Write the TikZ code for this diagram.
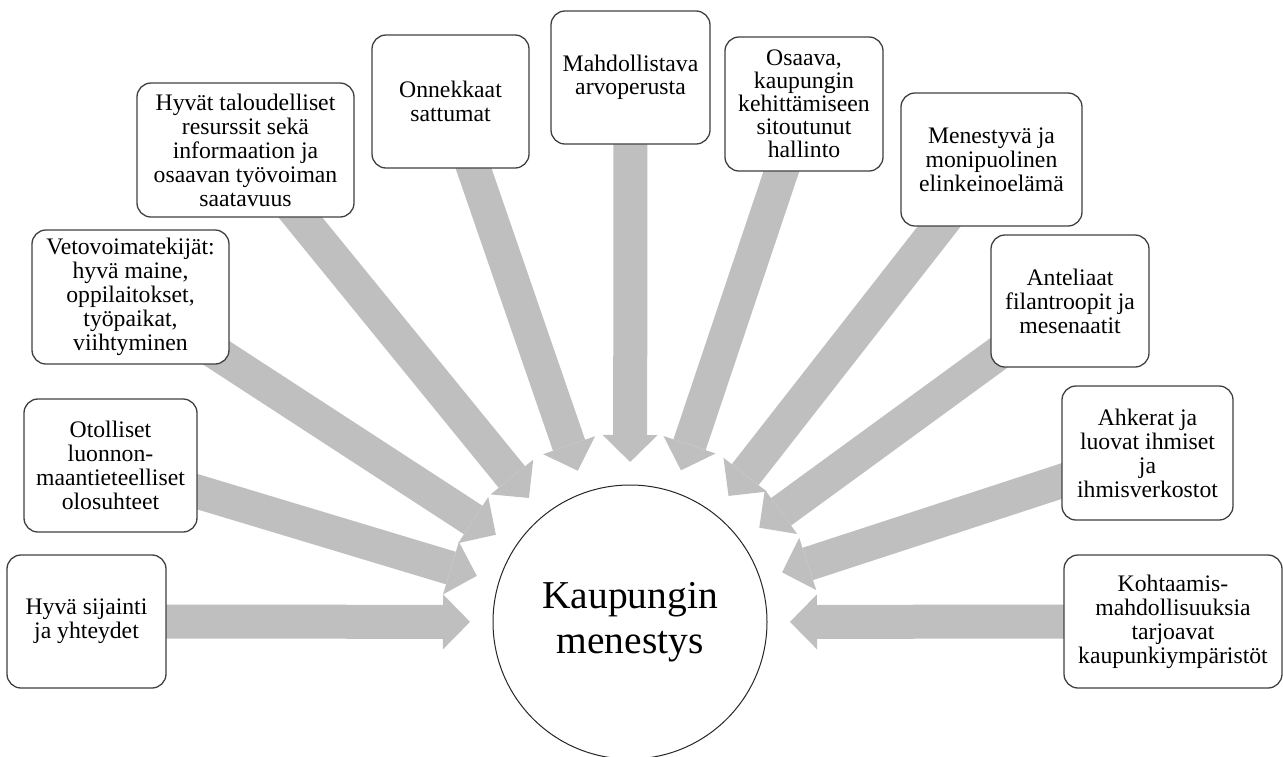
\documentclass[tikz,border=0pt]{standalone}
\usepackage{fontspec}
\setmainfont{Liberation Serif}
\usetikzlibrary{arrows.meta,calc}
\pgfdeclarelayer{bg}
\pgfsetlayers{bg,main}
\definecolor{arrowgray}{HTML}{BFBFBF}
\definecolor{boxline}{HTML}{404040}
\tikzset{
  box/.style={draw=boxline, line width=1.3pt, rounded corners=14pt, fill=white,
    align=center, inner sep=0pt, font=\fontsize{23.7}{24}\selectfont},
  hub/.style={circle, draw=black!85, line width=1pt, fill=white,
    minimum size=274pt, inner sep=0pt, align=center,
    font=\fontsize{39.5}{45}\selectfont},
  flow/.style={arrowgray, line width=34pt,
    -{Triangle[width=55pt,length=27pt,line width=0pt]}},
}
\begin{document}
\begin{tikzpicture}[x=1pt,y=-1pt]
\useasboundingbox (0,0) rectangle (1283,756);
\node[hub] (c) at (630,622) {Kaupungin\\menestys};

\node[box, minimum width=159pt, minimum height=133pt] (b1) at (86.5,621.5) {Hyvä sijainti\\ja yhteydet};
\node[box, minimum width=173pt, minimum height=133pt] (b2) at (110.5,465.5) {Otolliset\\luonnon-\\maantieteelliset\\olosuhteet};
\node[box, minimum width=197pt, minimum height=134pt] (b3) at (130.5,297) {Vetovoimatekijät:\\hyvä maine,\\oppilaitokset,\\työpaikat,\\viihtyminen};
\node[box, minimum width=217pt, minimum height=134pt] (b4) at (245.5,150) {Hyvät taloudelliset\\resurssit sekä\\informaation ja\\osaavan työvoiman\\saatavuus};
\node[box, minimum width=157pt, minimum height=133pt] (b5) at (450.5,101.5) {Onnekkaat\\sattumat};
\node[box, minimum width=159pt, minimum height=133pt, font=\fontsize{23.7}{23}\selectfont] (b6) at (630.5,77.5) {Mahdollistava\\arvoperusta};
\node[box, minimum width=158pt, minimum height=134pt, font=\fontsize{23.7}{23}\selectfont] (b7) at (804,104) {Osaava,\\kaupungin\\kehittämiseen\\sitoutunut\\hallinto};
\node[box, minimum width=181pt, minimum height=133pt] (b8) at (991.5,159.5) {Menestyvä ja\\monipuolinen\\elinkeinoelämä};
\node[box, minimum width=158pt, minimum height=132pt] (b9) at (1070,301) {Anteliaat\\filantroopit ja\\mesenaatit};
\node[box, minimum width=171pt, minimum height=134pt] (b10) at (1147.5,453) {Ahkerat ja\\luovat ihmiset\\ja\\ihmisverkostot};
\node[box, minimum width=218pt, minimum height=133pt] (b11) at (1173,621.5) {Kohtaamis-\\mahdollisuuksia\\tarjoavat\\kaupunkiympäristöt};

\begin{pgfonlayer}{bg}
\foreach \b in {b1,b2,b3,b4,b5,b6,b7,b8,b9,b10,b11}{
  \draw[flow] (\b.center) -- ($(c)!160pt!(\b.center)$);
}
\end{pgfonlayer}
\end{tikzpicture}
\end{document}
